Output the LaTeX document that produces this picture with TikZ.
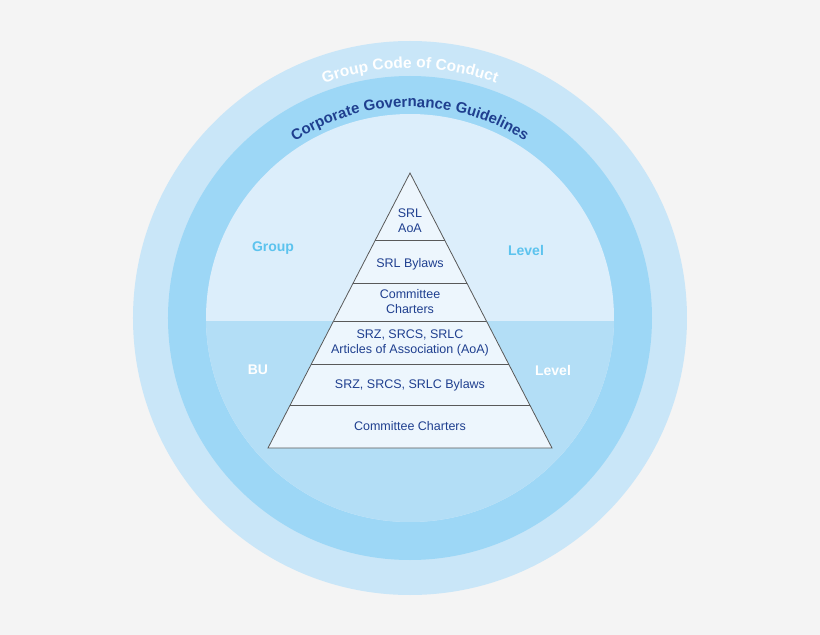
\documentclass[tikz,border=0pt]{standalone}
\usepackage{fontspec}
\setmainfont{Liberation Sans}
\usetikzlibrary{decorations.text}
\definecolor{bg}{HTML}{F4F4F4}
\definecolor{ring1}{HTML}{C9E6F8}
\definecolor{ring2}{HTML}{9DD7F6}
\definecolor{upper}{HTML}{DCEEFB}
\definecolor{lower}{HTML}{B3DEF6}
\definecolor{pyr}{HTML}{EDF6FD}
\definecolor{txt}{HTML}{1F3F8F}
\definecolor{lvl}{HTML}{5CC3EE}
\begin{document}
\begin{tikzpicture}[x=1pt,y=1pt,
  lab/.style={font=\fontsize{12.5}{15}\selectfont, text=txt, align=center},
  side/.style={font=\bfseries\fontsize{14}{16}\selectfont}]
\fill[bg] (-410,-317) rectangle (410,318);
\fill[ring1] (0,0) circle (277);
\fill[ring2] (0,0) circle (242);
\fill[upper] (0,0) circle (204);
\begin{scope}
\clip (0,0) circle (204);
\fill[lower] (-210,-3) rectangle (210,-210);
\end{scope}
% curved texts
\path[decorate,decoration={text along path,text align=center,
  text={|\bfseries\fontsize{15.5}{17}\selectfont\color{white}|Group Code of Conduct}}]
  (0,0) ++(150:250) arc (150:30:250);
\path[decorate,decoration={text along path,text align=center,
  text={|\bfseries\fontsize{15}{17}\selectfont\color{txt}|Corporate Governance Guidelines}}]
  (0,0) ++(155:211) arc (155:25:211);
\node[side,text=lvl] (g) at (-137,70) {Group};
\node[side,text=lvl] (l1) at (116,68) {Level};
\node[side,text=white] (bu) at (-152,-52) {BU};
\node[side,text=white] (l2) at (143,-52) {Level};
% pyramid
\draw[gray!70!black, fill=pyr, line width=0.8pt] (0,145) -- (142,-130) -- (-142,-130) -- cycle;
\foreach \y in {78,35,-3,-46,-87}{
  \pgfmathsetmacro{\hw}{0.51636*(145-\y)}
  \draw[gray!70!black, line width=0.8pt] (-\hw,\y) -- (\hw,\y);
}
\node[lab] (a) at (0,97) {SRL\\AoA};
\node[lab] (b) at (0,54) {SRL Bylaws};
\node[lab] (c) at (0,16) {Committee\\Charters};
\node[lab] (d) at (0,-25) {SRZ, SRCS, SRLC\\Articles of Association (AoA)};
\node[lab] (e) at (0,-67) {SRZ, SRCS, SRLC Bylaws};
\node[lab] (f) at (0,-108) {Committee Charters};
\end{tikzpicture}
\end{document}
